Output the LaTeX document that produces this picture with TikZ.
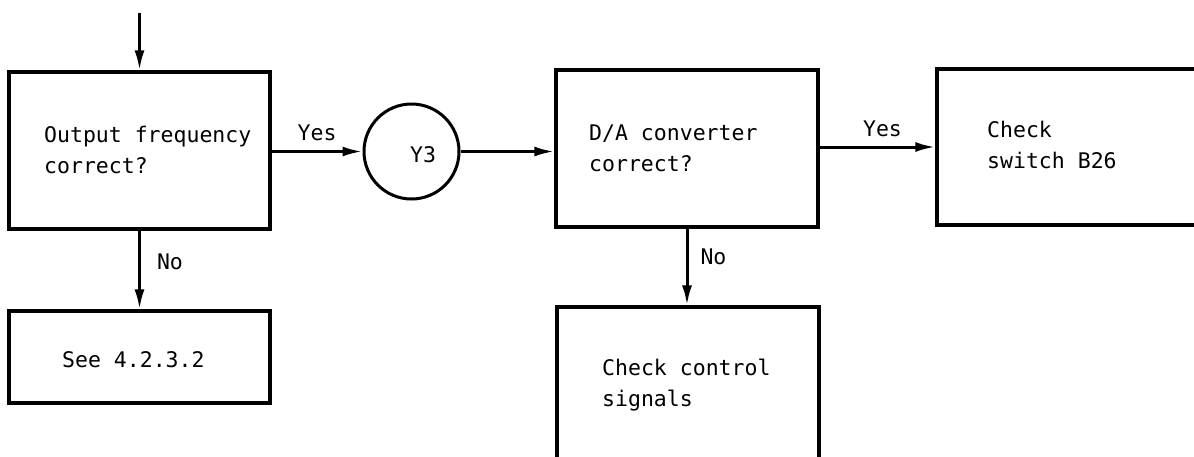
\documentclass[tikz,border=0pt]{standalone}
\usepackage{fontspec}
\setmonofont{DejaVu Sans Mono}
\usetikzlibrary{arrows.meta}
\begin{document}
\begin{tikzpicture}[x=1pt,y=-1pt,
  box/.style={draw, line width=3.2pt, minimum width=#1, inner sep=0pt},
  txt/.style={font=\ttfamily\fontsize{21.5}{31}\selectfont, align=left, inner sep=0pt, anchor=west},
  lbl/.style={font=\ttfamily\fontsize{21.5}{24}\selectfont, inner sep=0pt},
  arr/.style={-{Latex[length=20pt,width=10pt]}, line width=3pt}]
\useasboundingbox (0,0) rectangle (1194,456);
% boxes
\node[box=261pt, minimum height=157pt] (q1) at (139.5,150.5) {};
\node[box=261pt, minimum height=92pt] (see) at (139.5,357) {};
\node[draw, circle, line width=3pt, minimum size=95pt, inner sep=0pt] (y3) at (411.5,151.5) {};
\node[box=262pt, minimum height=157pt] (q2) at (687,148.5) {};
\node[box=283pt, minimum height=156pt] (sw) at (1078.5,147) {};
\node[box=262pt, minimum height=173pt] (ctl) at (688,393.5) {};
% texts
\node[txt] (t1) at (44,150) {Output frequency\\correct?};
\node[txt] (t2) at (62,360) {See 4.2.3.2};
\node[lbl] (t3) at (423,155) {Y3};
\node[txt] (t4) at (589,148) {D/A converter\\correct?};
\node[txt] (t5) at (987,145) {Check\\switch B26};
\node[txt] (t6) at (602,385) {Check control\\signals};
% connectors
\coordinate (in) at (139.5,13);
\draw[arr] (in) -- (q1.north);
\draw[arr] (q1.east |- y3.west) -- node[lbl, above=9pt] (yes1) {Yes} (y3.west);
\draw[arr] (y3.east) -- (q2.west |- y3.east);
\draw[arr] (q2.east |- sw.west) -- node[lbl, above=9pt, xshift=5pt] (yes2) {Yes} (sw.west);
\draw[arr] (q1.south) -- node[lbl, right=16pt, pos=0.4] (no1) {No} (see.north);
\draw[arr] (q2.south) -- node[lbl, right=12pt, pos=0.37] (no2) {No} (q2.south |- ctl.north);
\end{tikzpicture}
\end{document}
